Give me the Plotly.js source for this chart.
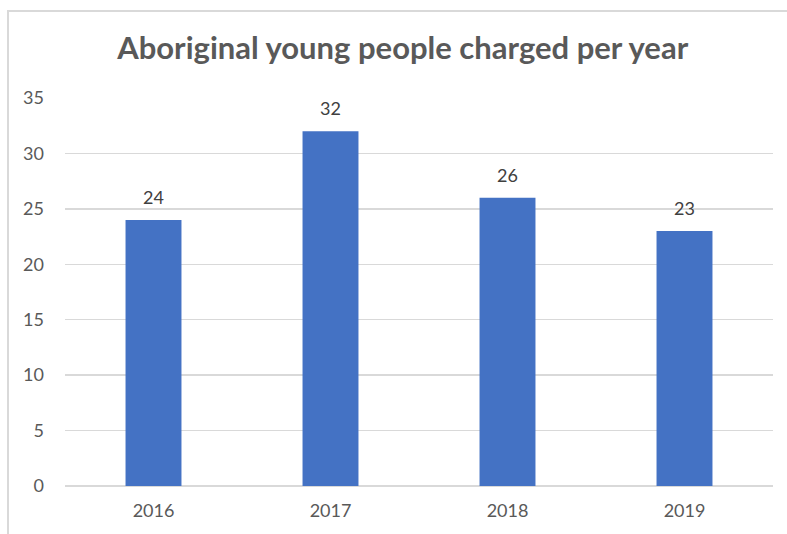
<!DOCTYPE html>
<html>
<head>
<meta charset="utf-8">
<script src="https://cdn.plot.ly/plotly-3.0.1.min.js"></script>
<style>
  html, body { margin: 0; padding: 0; background: #fff; overflow: hidden; }
  #frame { position: absolute; left: 7px; top: 10px; width: 900px; height: 700px; border: 2px solid #d9d9d9; box-sizing: border-box; }
  #chart { position: absolute; left: 0; top: 0; width: 787px; height: 534px; }
</style>
</head>
<body>
<div id="frame"></div>
<div id="chart"></div>
<script>
const years = ['2016', '2017', '2018', '2019'];
const charged = [24, 32, 26, 23];
const yTicks = [0, 5, 10, 15, 20, 25, 30, 35];

const FONT = 'Lato, "Open Sans", sans-serif';

const trace = {
  type: 'bar',
  x: years,
  y: charged,
  marker: { color: '#4472C4' },
  hoverinfo: 'x+y'
};

// category axis: annotation x given as the category index
const labels = years.map((yr, i) => ({
  x: i,
  y: charged[i],
  xref: 'x',
  yref: 'y',
  text: String(charged[i]),
  showarrow: false,
  yanchor: 'middle',
  yshift: 23,
  font: { family: FONT, size: 18, color: '#404040' }
}));

const layout = {
  width: 787,
  height: 534,
  paper_bgcolor: 'rgba(0,0,0,0)',
  plot_bgcolor: 'rgba(0,0,0,0)',
  margin: { l: 65, r: 14, t: 98, b: 48 },
  bargap: 0.684,
  showlegend: false,
  annotations: labels,
  title: {
    text: 'Aboriginal young people charged per year',
    font: { family: FONT, size: 31, color: '#595959', weight: 'bold' },
    x: 0.477,
    xanchor: 'center',
    xref: 'paper',
    y: 0.91,
    yanchor: 'middle',
    yref: 'container'
  },
  xaxis: {
    type: 'category',
    categoryarray: years,
    range: [-0.5, years.length - 0.5],
    showgrid: false,
    showline: false,
    ticks: '',
    tickfont: { family: FONT, size: 18, color: '#595959' },
    ticklabelstandoff: 12
  },
  yaxis: {
    range: [0, 35],
    tickvals: yTicks,
    ticktext: yTicks.map(String),
    showgrid: true,
    gridcolor: '#d9d9d9',
    gridwidth: 1.5,
    zeroline: true,
    zerolinecolor: '#d9d9d9',
    zerolinewidth: 1.5,
    showline: false,
    ticks: '',
    ticklabelstandoff: 20,
    tickfont: { family: FONT, size: 18, color: '#595959' }
  }
};

Plotly.newPlot('chart', [trace], layout, { displayModeBar: false, staticPlot: true });
</script>
</body>
</html>
